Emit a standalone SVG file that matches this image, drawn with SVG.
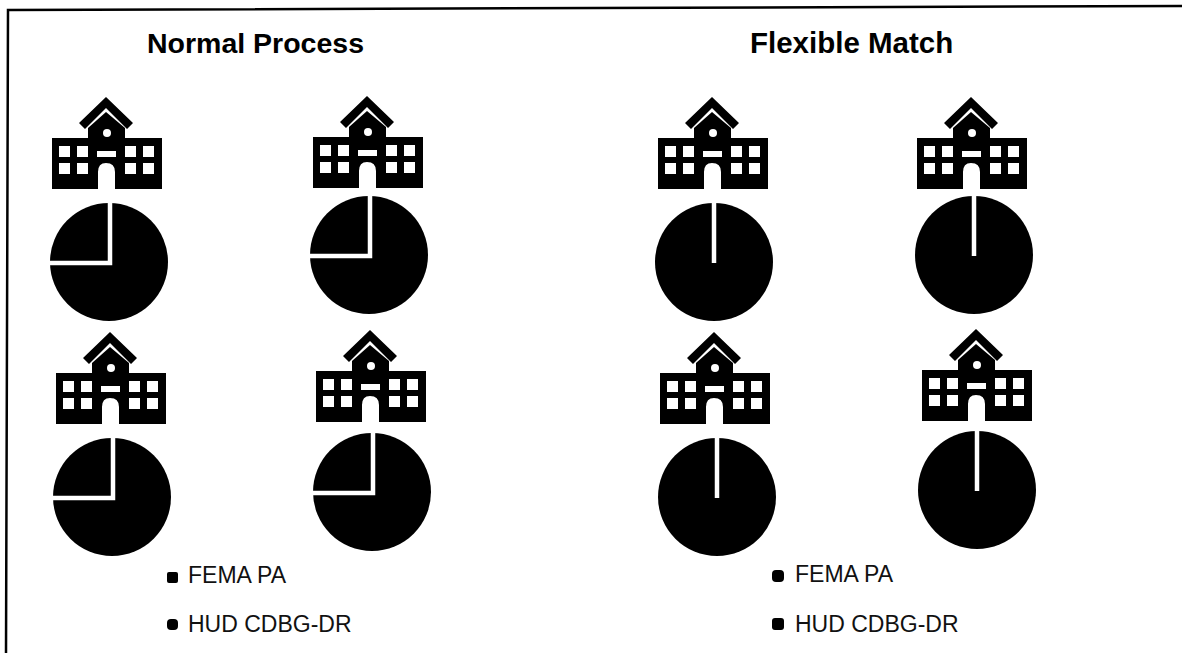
<svg xmlns="http://www.w3.org/2000/svg" width="1182" height="653" viewBox="0 0 1182 653">
<style>
text{font-family:"Liberation Sans",Arial,sans-serif;fill:#111}
.t{font-size:28.500px;font-weight:bold;fill:#000}
.t2{font-size:29.500px}
.l{font-size:23px}
.s{fill:none;stroke:#fff;stroke-width:4.500}
.frame{fill:none;stroke:#000;stroke-width:2.500}
</style>
<defs>
<g id="school">
<path d="M106 97L133 123L127 129L106 108L85 129L79 123Z" fill="#000"/>
<path d="M106 112L125 128V138H162V189H115V172Q115 163 106 163Q98 163 98 172V189H52V138H88V128Z" fill="#000"/>
<circle cx="107" cy="133" r="4" fill="#fff"/>
<g fill="#fff">
<rect x="59" y="146" width="11" height="11"/><rect x="77" y="146" width="11" height="11"/>
<rect x="125" y="146" width="11" height="11"/><rect x="143" y="146" width="11" height="11"/>
<rect x="59" y="163" width="11" height="11"/><rect x="77" y="163" width="11" height="11"/>
<rect x="125" y="163" width="11" height="11"/><rect x="143" y="163" width="11" height="11"/>
<rect x="97" y="151" width="19" height="6"/>
</g>
</g>
<g id="pie25"><circle r="59" fill="#000"/><path class="s" d="M1 -60V1H-60"/></g>
<g id="pie0"><circle r="59" fill="#000"/><path class="s" d="M0 -60V1"/></g>
</defs>
<path id="frame" class="frame" d="M6 653L8 10L1182 6"/>
<g id="titles">
<text class="t" x="147" y="53">Normal Process</text>
<text class="t t2" x="750" y="53">Flexible Match</text>
</g>
<g id="school1"><use href="#school"/></g>
<g id="school2"><use href="#school" x="261" y="-1"/></g>
<g id="school3"><use href="#school" x="606"/></g>
<g id="school4"><use href="#school" x="865"/></g>
<g id="school5"><use href="#school" x="4" y="235"/></g>
<g id="school6"><use href="#school" x="264" y="233"/></g>
<g id="school7"><use href="#school" x="608" y="235"/></g>
<g id="school8"><use href="#school" x="870" y="232"/></g>
<g id="pie1"><use href="#pie25" x="109" y="262"/></g>
<g id="pie2"><use href="#pie25" x="369" y="255"/></g>
<g id="pie3"><use href="#pie0" x="714" y="262"/></g>
<g id="pie4"><use href="#pie0" x="974" y="255"/></g>
<g id="pie5"><use href="#pie25" x="112" y="497"/></g>
<g id="pie6"><use href="#pie25" x="372" y="492"/></g>
<g id="pie7"><use href="#pie0" x="717" y="497"/></g>
<g id="pie8"><use href="#pie0" x="977" y="490"/></g>
<g id="legend1">
<rect x="167" y="572" width="11" height="11" rx="2" fill="#000"/><text class="l" x="188" y="583">FEMA PA</text>
<rect x="167" y="619" width="11" height="11" rx="4" fill="#000"/><text class="l" x="188" y="632">HUD CDBG-DR</text>
</g>
<g id="legend2">
<rect x="772" y="570" width="12" height="12" rx="4" fill="#000"/><text class="l" x="795" y="582">FEMA PA</text>
<rect x="772" y="618" width="12" height="12" rx="3" fill="#000"/><text class="l" x="795" y="632">HUD CDBG-DR</text>
</g>
<g id="connectors"/>
</svg>
